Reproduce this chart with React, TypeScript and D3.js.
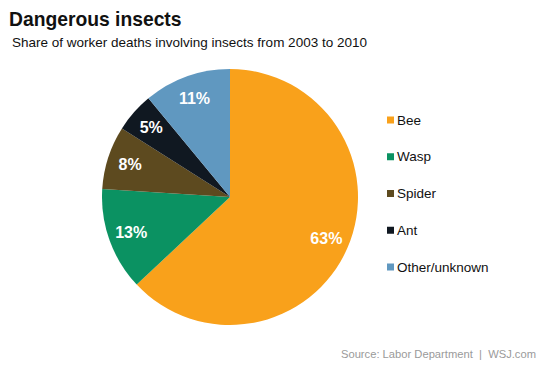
import * as d3 from "d3";

const categories = ["Bee", "Wasp", "Spider", "Ant", "Other/unknown"];
const shares = [63, 13, 8, 5, 11];
const colors = ["#F9A11B", "#0B9262", "#5D4A1F", "#101821", "#6098C0"];

interface Slice {
	name: string;
	value: number;
	color: string;
}

const slices: Slice[] = categories.map((c, i) => ({
	name: c,
	value: shares[i],
	color: colors[i],
}));

function App() {
	const width = 553;
	const height = 369;
	const cx = 230;
	const cy = 197;
	const radius = 128;

	const pie = d3
		.pie<Slice>()
		.value((d) => d.value)
		.sort(null);
	const arc = d3.arc<d3.PieArcDatum<Slice>>().innerRadius(0).outerRadius(radius);
	// labels sit at ~82% of the radius
	const labelArc = d3
		.arc<d3.PieArcDatum<Slice>>()
		.innerRadius(105)
		.outerRadius(105);
	const arcs = pie(slices);

	const legendY = d3
		.scalePoint<string>()
		.domain(categories)
		.range([120, 267]);

	const font = "Arial, 'Liberation Sans', sans-serif";

	return (
		<svg
			width={width}
			height={height}
			style={{ position: "absolute", left: 0, top: 0, background: "white" }}
			fontFamily={font}
		>
			<text x={9} y={26} fontSize={19.3} fontWeight="bold" fill="#111">
				Dangerous insects
			</text>
			<text x={12} y={47} fontSize={13.5} fill="#111">
				Share of worker deaths involving insects from 2003 to 2010
			</text>
			<g transform={"translate(" + cx + "," + cy + ")"}>
				{arcs.map((d, i) => (
					<path key={i} d={arc(d) || ""} fill={d.data.color} />
				))}
				{arcs.map((d, i) => {
					const c = labelArc.centroid(d);
					return (
						<text
							key={"l" + i}
							x={c[0]}
							y={c[1]}
							dy="0.35em"
							textAnchor="middle"
							fontSize={16}
							fontWeight="bold"
							fill="white"
						>
							{d.data.value + "%"}
						</text>
					);
				})}
			</g>
			{slices.map((s, i) => (
				<g key={"g" + i} transform={"translate(387," + legendY(s.name) + ")"}>
					<rect x={0} y={-3.5} width={7} height={7} fill={s.color} />
					<text x={10} y={0} dy="0.35em" fontSize={13.5} fill="#111">
						{s.name}
					</text>
				</g>
			))}
			<text x={536} y={358} textAnchor="end" fontSize={11.2} fill="#9a9a9a">
				{"Source: Labor Department\u00a0\u00a0|\u00a0\u00a0WSJ.com"}
			</text>
		</svg>
	);
}

export default App;
